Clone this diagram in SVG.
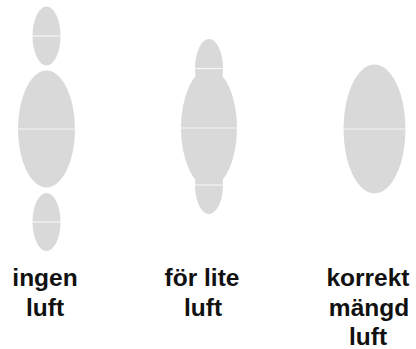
<svg xmlns="http://www.w3.org/2000/svg" width="416" height="349" viewBox="0 0 416 349">
<style>
.b{fill:#d9d9d9}
.l{stroke:#fff;stroke-width:1.2;stroke-opacity:0.75}
.t{font-family:"Liberation Sans",Arial,sans-serif;font-weight:bold;font-size:24.5px;fill:#111;text-anchor:middle}
</style>
<rect width="416" height="349" fill="#fff"/>
<g id="ingen-luft">
<ellipse class="b" cx="46.5" cy="36" rx="14" ry="29.5"/>
<line class="l" x1="32.5" y1="36" x2="60.5" y2="36"/>
<ellipse class="b" cx="46.5" cy="129" rx="28.5" ry="58.5"/>
<line class="l" x1="18" y1="129" x2="75" y2="129"/>
<ellipse class="b" cx="46.5" cy="222" rx="14" ry="29"/>
<line class="l" x1="32.5" y1="222" x2="60.5" y2="222"/>
<text class="t" x="45" y="285.5">ingen</text>
<text class="t" x="45" y="315.5">luft</text>
</g>
<g id="for-lite-luft">
<ellipse class="b" cx="209" cy="128" rx="28" ry="59"/>
<ellipse class="b" cx="209" cy="68.5" rx="14" ry="29.5"/>
<ellipse class="b" cx="209" cy="185" rx="14" ry="29"/>
<line class="l" x1="195" y1="68.5" x2="223" y2="68.5"/>
<line class="l" x1="181" y1="128" x2="237" y2="128" stroke-opacity="0.4"/>
<line class="l" x1="195" y1="185" x2="223" y2="185"/>
<text class="t" x="202" y="285.5">för lite</text>
<text class="t" x="203" y="315.5">luft</text>
</g>
<g id="korrekt-mangd-luft">
<ellipse class="b" cx="374.5" cy="129" rx="31" ry="64.5"/>
<line class="l" x1="343.5" y1="129" x2="405.5" y2="129" stroke-opacity="1"/>
<text class="t" x="368" y="285.5">korrekt</text>
<text class="t" x="369" y="315.5">mängd</text>
<text class="t" x="368" y="345">luft</text>
</g>
<g id="connectors"/>
</svg>
